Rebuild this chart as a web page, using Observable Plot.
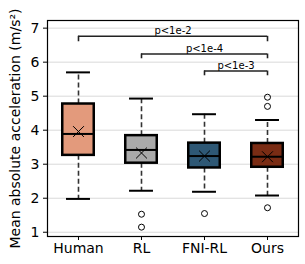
<!DOCTYPE html>
<html>
<head>
<meta charset="utf-8">
<script src="https://cdn.jsdelivr.net/npm/d3@7"></script>
<script src="https://cdn.jsdelivr.net/npm/@observablehq/plot@0.6"></script>
<style>
  html, body { margin: 0; padding: 0; background: #fff; }
</style>
</head>
<body>
<div id="chart"></div>
<script>
const categories = ["Human", "RL", "FNI-RL", "Ours"];
const q1 = [3.26, 3.03, 2.89, 2.91];
const medians = [3.89, 3.42, 3.24, 3.22];
const q3 = [4.77, 3.84, 3.62, 3.61];
const whiskerLow = [1.98, 2.22, 2.19, 2.08];
const whiskerHigh = [5.70, 4.93, 4.47, 4.30];
const means = [3.96, 3.33, 3.24, 3.22];
const colors = ["#e39a7c", "#aaaaaa", "#2e5875", "#7a2c14"];

const outlierCats = ["RL", "RL", "FNI-RL", "Ours", "Ours", "Ours"];
const outlierValues = [1.53, 1.15, 1.55, 1.72, 4.70, 4.97];

const bracketFrom = ["Human", "RL", "FNI-RL"];
const bracketTo = ["Ours", "Ours", "Ours"];
const bracketY = [6.76, 6.24, 5.74];
const bracketDrop = [6.60, 6.10, 5.60];
const bracketLabels = ["p<1e-2", "p<1e-4", "p<1e-3"];

const yTicks = [1, 2, 3, 4, 5, 6, 7];
const yLabel = "Mean absolute acceleration (m/s²)";

const idx = c => categories.indexOf(c);
const boxes = categories.map((c, i) => ({
  i, c, q1: q1[i], med: medians[i], q3: q3[i],
  lo: whiskerLow[i], hi: whiskerHigh[i], mean: means[i], color: colors[i]
}));
const outliers = outlierCats.map((c, k) => ({ i: idx(c), v: outlierValues[k] }));
const brackets = bracketFrom.map((f, k) => ({
  a: idx(f), b: idx(bracketTo[k]), y: bracketY[k], d: bracketDrop[k], label: bracketLabels[k]
}));
const bracketEnds = brackets.flatMap(b => [{ x: b.a, y: b.y, d: b.d }, { x: b.b, y: b.y, d: b.d }]);

const bw = 0.25, cw = 0.19;
const xDomain = [-0.492, 3.492];
const yDomain = [0.875, 7.225];

const chart = Plot.plot({
  width: 305,
  height: 264,
  marginLeft: 47,
  marginRight: 7,
  marginTop: 20,
  marginBottom: 28,
  style: { fontFamily: "DejaVu Sans", fontSize: "14px", background: "#fff", color: "#000" },
  x: { type: "linear", domain: xDomain },
  y: { domain: yDomain },
  marks: [
    Plot.gridY(yTicks, { stroke: "#d9d9d9", strokeOpacity: 1, strokeWidth: 1 }),
    Plot.axisY({ ticks: yTicks, tickFormat: d => String(d), tickSize: 4, tickPadding: 4, label: null, fontSize: 14 }),
    Plot.axisX({ ticks: [0, 1, 2, 3], tickFormat: i => categories[i], tickSize: 4, tickPadding: 3, label: null, fontSize: 14 }),
    Plot.ruleX(boxes, { x: "i", y1: "q3", y2: "hi", stroke: "#333", strokeWidth: 1.6, strokeDasharray: "5,3" }),
    Plot.ruleX(boxes, { x: "i", y1: "q1", y2: "lo", stroke: "#333", strokeWidth: 1.6, strokeDasharray: "5,3" }),
    Plot.rect(boxes, { x1: d => d.i - bw, x2: d => d.i + bw, y1: "q1", y2: "q3", fill: "color", stroke: "#000", strokeWidth: 2.5 }),
    Plot.ruleY(boxes, { x1: d => d.i - bw, x2: d => d.i + bw, y: "med", stroke: "#000", strokeWidth: 2 }),
    Plot.ruleY(boxes, { x1: d => d.i - cw, x2: d => d.i + cw, y: "hi", stroke: "#000", strokeWidth: 2 }),
    Plot.ruleY(boxes, { x1: d => d.i - cw, x2: d => d.i + cw, y: "lo", stroke: "#000", strokeWidth: 2 }),
    Plot.dot(boxes, { x: "i", y: "mean", symbol: "times", r: 5, stroke: "#000", strokeWidth: 1 }),
    Plot.dot(outliers, { x: "i", y: "v", r: 3, stroke: "#000", fill: "none", strokeWidth: 1 }),
    Plot.ruleY(brackets, { x1: "a", x2: "b", y: "y", stroke: "#222", strokeWidth: 1.6 }),
    Plot.ruleX(bracketEnds, { x: "x", y1: "y", y2: "d", stroke: "#222", strokeWidth: 1.6 }),
    Plot.text(brackets, { x: d => (d.a + d.b) / 2, y: "y", text: "label", lineAnchor: "bottom", dy: -2, fontSize: 10, fill: "#000" }),
    Plot.text([yLabel], { x: () => xDomain[0], y: () => (yDomain[0] + yDomain[1]) / 2, text: d => d, rotate: -90, dx: -32, textAnchor: "middle", lineAnchor: "middle", fontSize: 14, fill: "#000" }),
    Plot.frame({ stroke: "#000", strokeWidth: 1.2 })
  ]
});
document.getElementById("chart").appendChild(chart);
</script>
</body>
</html>
